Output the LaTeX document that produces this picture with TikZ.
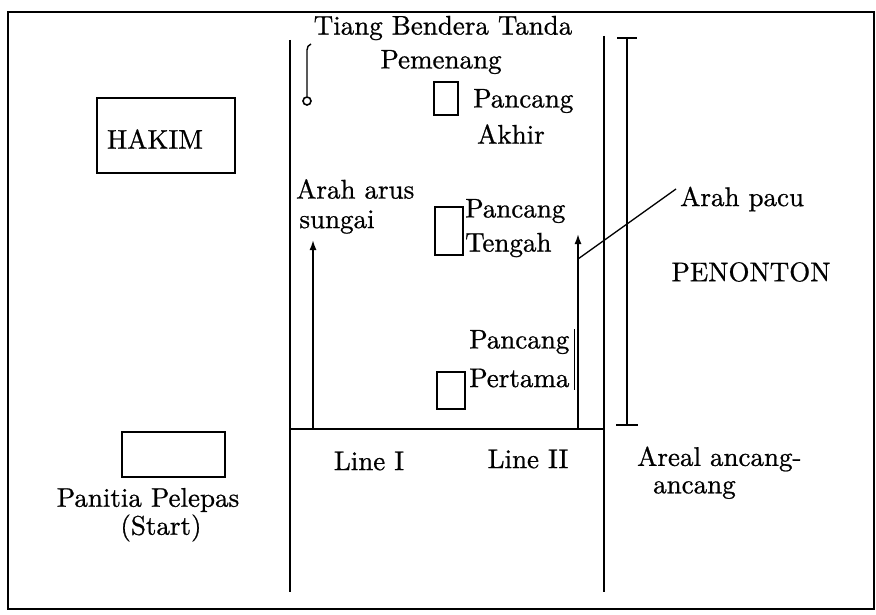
\documentclass[tikz,border=0pt]{standalone}
\usepackage{fontspec}
\setmainfont{lmroman10-regular.otf}[FakeBold=0.8]
\usetikzlibrary{arrows.meta}
\begin{document}
\begin{tikzpicture}[x=1pt,y=-1pt,
  lbl/.style={inner sep=0pt,font=\fontsize{27}{31}\selectfont},
  ln/.style={line width=1.7pt},
  boxs/.style={draw,line width=1.7pt,inner sep=0pt},
  arr/.style={line width=1.7pt,-{Latex[length=10pt,width=7pt]}}]
\useasboundingbox (0,0) rectangle (876,615);
% frame
\coordinate (f1) at (8,12); \coordinate (f2) at (874,609);
\draw[ln] (f1) rectangle (f2);
% boxes
\node[boxs,minimum width=138pt,minimum height=75pt] (hakim) at (166,135.5) {};
\node[lbl] (hakimt) at (155,139) {HAKIM};
\node[boxs,minimum width=103pt,minimum height=45pt] (panitia) at (173.5,454.5) {};
\node[lbl] (panitiat) at (148,500) {Panitia Pelepas};
\node[lbl] (start) at (161,528) {(Start)};
% river banks
\coordinate (lt) at (290,40); \coordinate (lb) at (290,592);
\coordinate (rt) at (604,36); \coordinate (rb) at (604,592);
\draw[ln] (lt) -- (lb);
\draw[ln] (rt) -- (rb);
\coordinate (sl) at (290,429); \coordinate (sr) at (604,429);
\draw[ln] (sl) -- (sr);
% penonton fence
\coordinate (pt) at (627,38); \coordinate (pb) at (627,425);
\draw[ln] (pt) -- (pb);
\draw[ln] ([xshift=-10pt]pt) -- ([xshift=10pt]pt);
\draw[line width=2.4pt] ([xshift=-11pt]pb) -- ([xshift=11pt]pb);
% arrows
\coordinate (a1b) at (313,429); \coordinate (a1t) at (313,240);
\draw[arr] (a1b) -- (a1t);
\coordinate (a2b) at (578,429); \coordinate (a2t) at (578,234);
\draw[arr] (a2b) -- (a2t);
% arah pacu pointer
\coordinate (pp1) at (578,259); \coordinate (pp2) at (676,189);
\draw[line width=1.3pt] (pp1) -- (pp2);
\node[lbl,anchor=west] (pacu) at (680,199) {Arah pacu};
\node[lbl] (penonton) at (751,272) {PENONTON};
% flag pole
\coordinate (fpb) at (307,96); \coordinate (fpt) at (307,50);
\draw[line width=1.4pt] (fpb) -- (fpt) to[out=90,in=200] (311,44);
\node[draw,circle,line width=1.6pt,minimum size=8pt,inner sep=0pt] (ring) at (307,101) {};
\node[lbl] (tiang) at (443,28) {Tiang Bendera Tanda};
\node[lbl] (pemenang) at (441,62) {Pemenang};
% pancang akhir
\node[boxs,minimum width=24pt,minimum height=33pt] (pa) at (446,98.5) {};
\node[lbl,anchor=west] (pat) at (473,101) {Pancang};
\node[lbl] (akhir) at (511,134) {Akhir};
% arah arus
\node[lbl,anchor=west] (arus) at (296,189) {Arah arus};
\node[lbl] (sungai) at (337,222) {sungai};
% pancang tengah
\node[boxs,minimum width=28pt,minimum height=48pt] (ptg) at (449,231) {};
\node[lbl,anchor=west] (ptgt) at (465,211) {Pancang};
\node[lbl,anchor=west] (tengah) at (465,245) {Tengah};
% pancang pertama
\node[boxs,minimum width=28pt,minimum height=37pt] (ppt) at (451,390.5) {};
\node[lbl,anchor=west] (pptt) at (469,342) {Pancang};
\node[lbl,anchor=west] (pertama) at (469,378) {Pertama};
\coordinate (st1) at (574,329); \coordinate (st2) at (574,390);
\draw[line width=0.6pt] (st1) -- (st2);
% bottom labels
\node[lbl] (line1) at (369,461) {Line I};
\node[lbl] (line2) at (528,459) {Line II};
\node[lbl,anchor=west] (areal) at (637,459) {Areal ancang-};
\node[lbl,anchor=west] (ancang) at (653,490) {ancang};
\end{tikzpicture}
\end{document}
